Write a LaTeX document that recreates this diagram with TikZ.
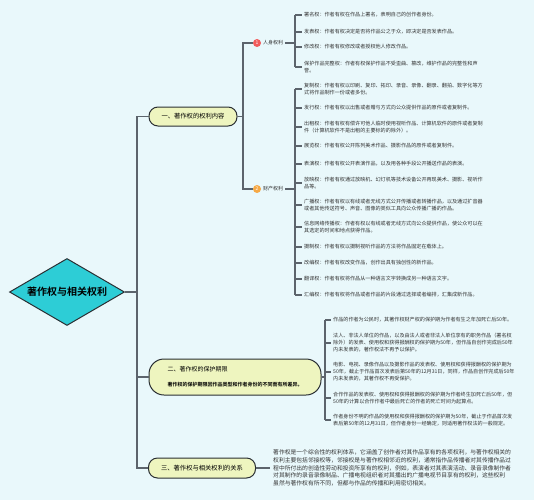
\documentclass[tikz,border=0pt]{standalone}
\usepackage{fontspec}
\setmainfont{Noto Sans CJK SC}[BoldFont={Noto Sans CJK SC Bold}]
\usetikzlibrary{shapes.geometric}
\definecolor{bg}{HTML}{E9F8FB}
\definecolor{linec}{HTML}{5C646C}
\definecolor{diam}{HTML}{2DCDD6}
\definecolor{pillc}{HTML}{EEF5BF}
\definecolor{dark}{HTML}{2A2F33}
\definecolor{redc}{HTML}{F25C5C}
\definecolor{orac}{HTML}{F6A945}
\definecolor{txt}{HTML}{333333}
\begin{document}
\begin{tikzpicture}[x=1pt,y=-1pt,
  conn/.style={draw=linec, line width=1.5pt},
  brk/.style={draw=linec, line width=1.3pt},
  pillbox/.style={draw=dark, line width=1pt, fill=pillc, rounded corners=9pt, inner sep=0pt, text=black},
  item/.style={anchor=west, align=left, font=\fontsize{5.1}{7}\selectfont, text=txt, inner sep=0pt},
  numc/.style={circle, minimum size=8pt, inner sep=0pt, text=white, font=\fontsize{5}{5}\selectfont},
  sublab/.style={anchor=west, inner sep=0pt, font=\fontsize{5}{6}\selectfont, text=txt}]
\fill[bg] (0,0) rectangle (534,500);
\useasboundingbox (0,0) rectangle (534,500);

% root
\node[diamond, draw=dark, line width=1pt, fill=diam, minimum width=115pt, minimum height=67pt,
      inner sep=0pt, aspect=1.7, font=\bfseries\fontsize{10}{12}\selectfont] (root) at (67,292) {著作权与相关权利};

% level 1
\node[pillbox, minimum width=88pt, minimum height=19pt, font=\fontsize{6.3}{8}\selectfont] (p1) at (193,116.5) {一、著作权的权利内容};
\node[pillbox, rounded corners=15pt, minimum width=172pt, minimum height=36pt, align=left] (p2) at (235,377)
  {{\fontsize{6}{8}\selectfont 二、著作权的保护期限}\\[3pt]{\bfseries\fontsize{5}{7}\selectfont 著作权的保护期限因作品类型和作者身份的不同而有所差异。}};
\node[pillbox, minimum width=107pt, minimum height=20pt, font=\fontsize{6.3}{8}\selectfont] (p3) at (202,468) {三、著作权与相关权利的关系};

\coordinate (tk) at (137,292);
\draw[conn] (root.east) -- (tk);
\draw[conn] (p1.west) -| (tk) |- (p3.west);
\draw[conn] (p2.west) -- (p2.west -| tk);

% level 2 under p1
\coordinate (b1) at (243,116.5);
\node[numc, fill=redc] (c1) at (257,43) {1};
\node[numc, fill=orac] (c2) at (257,189) {2};
\node[sublab] (l1) at (263,43) {人身权利};
\node[sublab] (l2) at (263,189) {财产权利};
\draw[conn] (p1.east) -- (b1);
\draw[conn] (c1.west) -| (b1) |- (c2.west);
\coordinate (k1) at (295,43);
\coordinate (k2) at (295,189);
\draw[brk] ([xshift=2pt]l1.east) -- (k1);
\draw[brk] ([xshift=2pt]l2.east) -- (k2);

% personal rights
\node[item] (a1) at (304,15) {署名权：作者有权在作品上署名，表明自己的创作者身份。};
\node[item] (a2) at (304,32) {发表权：作者有权决定是否将作品公之于众，即决定是否发表作品。};
\node[item] (a3) at (304,47) {修改权：作者有权修改或者授权他人修改作品。};
\node[item] (a4) at (304,67) {保护作品完整权：作者有权保护作品不受歪曲、篡改，维护作品的完整性和声\\誉。};
\draw[brk] (k1 |- a1.west) -- (k1 |- a4.west);
\foreach \n in {a1,a2,a3,a4} \draw[brk] (k1 |- \n.west) -- ([xshift=-2pt]\n.west);

% property rights
\node[item] (b01) at (304,89) {复制权：作者有权以印刷、复印、拓印、录音、录像、翻录、翻拍、数字化等方\\式将作品制作一份或者多份。};
\node[item] (b02) at (304,108) {发行权：作者有权以出售或者赠与方式向公众提供作品的原件或者复制件。};
\node[item] (b03) at (304,127) {出租权：作者有权有偿许可他人临时使用视听作品、计算机软件的原件或者复制\\件（计算机软件不是出租的主要标的的除外）。};
\node[item] (b04) at (304,146) {展览权：作者有权公开陈列美术作品、摄影作品的原件或者复制件。};
\node[item] (b05) at (304,164) {表演权：作者有权公开表演作品，以及用各种手段公开播送作品的表演。};
\node[item] (b06) at (304,183) {放映权：作者有权通过放映机、幻灯机等技术设备公开再现美术、摄影、视听作\\品等。};
\node[item] (b07) at (304,205) {广播权：作者有权以有线或者无线方式公开传播或者转播作品，以及通过扩音器\\或者其他传送符号、声音、图像的类似工具向公众传播广播的作品。};
\node[item] (b08) at (304,227) {信息网络传播权：作者有权以有线或者无线方式向公众提供作品，使公众可以在\\其选定的时间和地点获得作品。};
\node[item] (b09) at (304,247) {摄制权：作者有权以摄制视听作品的方法将作品固定在载体上。};
\node[item] (b10) at (304,263) {改编权：作者有权改变作品，创作出具有独创性的新作品。};
\node[item] (b11) at (304,279) {翻译权：作者有权将作品从一种语言文字转换成另一种语言文字。};
\node[item] (b12) at (304,295) {汇编权：作者有权将作品或者作品的片段通过选择或者编排，汇集成新作品。};
\draw[brk] (k2 |- b01.west) -- (k2 |- b12.west);
\foreach \n in {b01,b02,b03,b04,b05,b06,b07,b08,b09,b10,b11,b12} \draw[brk] (k2 |- \n.west) -- ([xshift=-2pt]\n.west);

% protection term
\coordinate (k3) at (325,377);
\draw[brk] (p2.east) -- (k3);
\node[item] (d1) at (333,320) {作品的作者为公民时，其著作权财产权的保护期为作者有生之年加死亡后50年。};
\node[item] (d2) at (333,343) {法人、非法人单位的作品，以及由法人或者非法人单位享有的职务作品（署名权\\除外）的发表、使用权和获得报酬权的保护期为50年，但作品自创作完成后50年\\内未发表的，著作权法不再予以保护。};
\node[item] (d3) at (333,372) {电影、电视、录像作品以及摄影作品的发表权、使用权和获得报酬权的保护期为\\50年，截止于作品首次发表后第50年的12月31日，同样，作品自创作完成后50年\\内未发表的，其著作权不再受保护。};
\node[item] (d4) at (333,398) {合作作品的发表权、使用权和获得报酬权的保护期为作者终生加死亡后50年，但\\50年的计算以合作作者中最后死亡的作者的死亡时间为起算点。};
\node[item] (d5) at (333,420) {作者身份不明的作品的使用权和获得报酬权的保护期为50年，截止于作品首次发\\表后第50年的12月31日，但作者身份一经确定，则适用著作权法的一般规定。};
\draw[brk] (k3 |- d1.west) -- (k3 |- d5.west);
\foreach \n in {d1,d2,d3,d4,d5} \draw[brk] (k3 |- \n.west) -- ([xshift=-2pt]\n.west);

% relation paragraph
\node[item, font=\fontsize{5.8}{7.8}\selectfont] (e1) at (273,468) {著作权是一个综合性的权利体系，它涵盖了创作者对其作品享有的各项权利，与著作权相关的\\权利主要包括邻接权等，邻接权是与著作权相邻近的权利，通常指作品传播者对其传播作品过\\程中所付出的创造性劳动和投资所享有的权利，例如，表演者对其表演活动、录音录像制作者\\对其制作的录音录像制品、广播电视组织者对其播出的广播电视节目享有的权利，这些权利\\虽然与著作权有所不同，但都与作品的传播和利用密切相关。};
\draw[conn] (p3.east) -- ([xshift=-3pt]e1.west);
\end{tikzpicture}
\end{document}
